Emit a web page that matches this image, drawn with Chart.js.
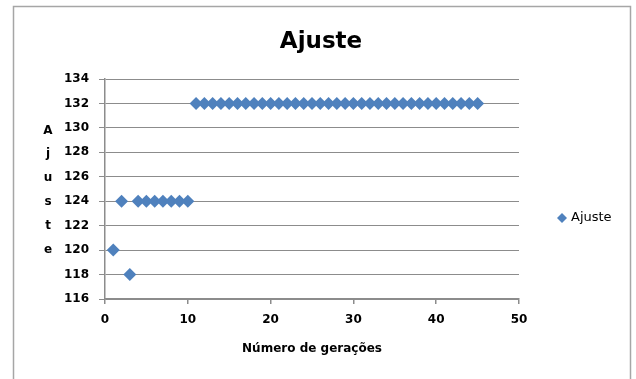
<!DOCTYPE html>
<html>
<head>
<meta charset="utf-8">
<script src="https://cdn.jsdelivr.net/npm/chart.js@4/dist/chart.umd.min.js"></script>
<style>
  html, body { margin: 0; padding: 0; background: #ffffff; }
  #wrap { position: relative; width: 636px; height: 379px; }
</style>
</head>
<body>
<div id="wrap"><canvas id="c" width="636" height="379"></canvas></div>
<script>
// Generations and fitness values
const generations = [1, 2, 3, 4, 5, 6, 7, 8, 9, 10,
  11, 12, 13, 14, 15, 16, 17, 18, 19, 20, 21, 22, 23, 24, 25, 26, 27, 28,
  29, 30, 31, 32, 33, 34, 35, 36, 37, 38, 39, 40, 41, 42, 43, 44, 45];
const fitness = [120, 124, 118, 124, 124, 124, 124, 124, 124, 124,
  132, 132, 132, 132, 132, 132, 132, 132, 132, 132, 132, 132, 132, 132, 132, 132, 132, 132,
  132, 132, 132, 132, 132, 132, 132, 132, 132, 132, 132, 132, 132, 132, 132, 132, 132];
const xTicks = [0, 10, 20, 30, 40, 50];
const yTicks = [116, 118, 120, 122, 124, 126, 128, 130, 132, 134];

const chartTitle = 'Ajuste';
const seriesName = 'Ajuste';
const xTitle = 'Número de gerações';
const yTitle = 'Ajuste';

const FONT = '"DejaVu Sans", sans-serif';
const BLUE = '#4F81BD';
const GRID = '#8c8c8c';

const points = generations.map((g, i) => ({ x: g, y: fitness[i] }));

// Frame, title, stacked vertical axis title and legend
const decorations = {
  id: 'decorations',
  beforeDraw(chart) {
    const ctx = chart.ctx;
    ctx.save();
    ctx.strokeStyle = '#a6a6a6';
    ctx.lineWidth = 1.5;
    ctx.beginPath();
    ctx.moveTo(13.5, 390);
    ctx.lineTo(13.5, 6.5);
    ctx.lineTo(630.5, 6.5);
    ctx.lineTo(630.5, 390);
    ctx.stroke();
    ctx.restore();
  },
  afterDraw(chart) {
    const ctx = chart.ctx;
    const area = chart.chartArea;
    ctx.save();
    ctx.fillStyle = '#000';
    // title
    ctx.font = 'bold 23px ' + FONT;
    ctx.textAlign = 'center';
    ctx.textBaseline = 'alphabetic';
    ctx.fillText(chartTitle, 321, 48);
    // y title, one letter per line
    ctx.font = 'bold 12px ' + FONT;
    ctx.textBaseline = 'middle';
    const letters = yTitle.split('');
    const step = 23.8;
    const mid = (area.top + area.bottom) / 2 + 1;
    letters.forEach((ch, i) => {
      ctx.fillText(ch, 48, mid + (i - (letters.length - 1) / 2) * step);
    });
    // x title
    ctx.fillText(xTitle, (area.left + area.right) / 2, 349);
    // legend
    const ly = 218;
    ctx.fillStyle = BLUE;
    ctx.beginPath();
    ctx.moveTo(562, ly - 5);
    ctx.lineTo(567, ly);
    ctx.lineTo(562, ly + 5);
    ctx.lineTo(557, ly);
    ctx.closePath();
    ctx.fill();
    ctx.fillStyle = '#000';
    ctx.font = '13px ' + FONT;
    ctx.textAlign = 'left';
    ctx.fillText(seriesName, 571, ly);
    ctx.restore();
  }
};

new Chart(document.getElementById('c'), {
  type: 'scatter',
  data: {
    datasets: [{
      label: seriesName,
      data: points,
      pointStyle: 'rectRot',
      pointRadius: 6.5,
      pointHoverRadius: 6.5,
      backgroundColor: BLUE,
      borderColor: BLUE,
      borderWidth: 0
    }]
  },
  options: {
    responsive: false,
    animation: false,
    events: [],
    layout: { padding: { top: 79, right: 117, left: 0, bottom: 0 } },
    plugins: {
      legend: { display: false },
      title: { display: false },
      tooltip: { enabled: false }
    },
    scales: {
      x: {
        type: 'linear',
        min: 0,
        max: 50,
        afterFit(s) { s.height = 80; },
        afterBuildTicks(s) { s.ticks = xTicks.map(v => ({ value: v })); },
        border: { display: true, color: GRID, width: 1.5 },
        grid: { drawOnChartArea: false, drawTicks: true, tickLength: 5, color: GRID, lineWidth: 1.5 },
        ticks: { color: '#000', padding: 9, font: { family: FONT, size: 12, weight: 'bold' } }
      },
      y: {
        type: 'linear',
        min: 116,
        max: 134,
        afterFit(s) { s.width = 105; },
        afterBuildTicks(s) { s.ticks = yTicks.map(v => ({ value: v })); },
        border: { display: true, color: GRID, width: 1.5 },
        grid: { drawOnChartArea: true, drawTicks: true, tickLength: 6, color: GRID, lineWidth: 1 },
        ticks: { color: '#000', padding: 10, font: { family: FONT, size: 12, weight: 'bold' } }
      }
    }
  },
  plugins: [decorations]
});
</script>
</body>
</html>
